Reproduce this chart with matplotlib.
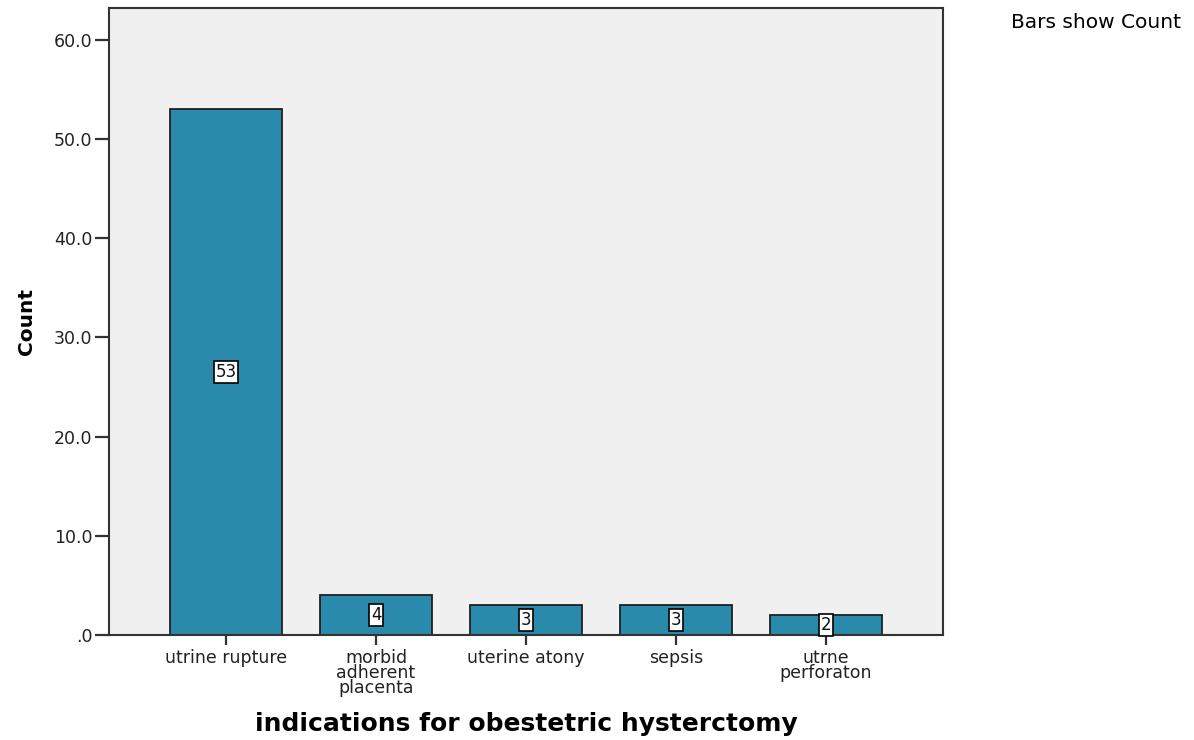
import matplotlib
matplotlib.use('Agg')
from matplotlib import pyplot as plt

categories = ['utrine rupture', 'morbid\nadherent\nplacenta', 'uterine atony', 'sepsis', 'utrne\nperforaton']
counts = [53, 4, 3, 3, 2]
yticks = [0, 10, 20, 30, 40, 50, 60]
ytick_labels = ['.0', '10.0', '20.0', '30.0', '40.0', '50.0', '60.0']

plt.rcParams['font.family'] = ['DejaVu Sans']

fig = plt.figure(figsize=(11.94, 7.4), dpi=100)
ax = fig.add_axes([0.0913, 0.1419, 0.6985, 0.8471])
ax.set_facecolor('#f0f0f0')

pos = list(range(len(categories)))
ax.bar(pos, counts, width=0.75, color='#2a8aab', edgecolor='#202020', linewidth=1.3, zorder=2)

# value boxes in the middle of each bar
for p, c in zip(pos, counts):
    ax.text(p, c / 2, str(c), ha='center', va='center', fontsize=12, color='#111111', zorder=3,
            bbox=dict(boxstyle='square,pad=0.1', facecolor='white', edgecolor='black', linewidth=1.2))

ax.set_xlim(-0.78, 4.78)
ax.set_ylim(0, 63.2)
ax.set_xticks(pos)
ax.set_xticklabels(categories, fontsize=12.5, linespacing=0.8, color='#222222')
ax.set_yticks(yticks)
ax.set_yticklabels(ytick_labels, fontsize=12.5, color='#222222')
ax.tick_params(axis='y', direction='out', length=10, width=1.6, pad=2, color='#333333')
ax.tick_params(axis='x', direction='out', length=7, width=1.6, pad=3, color='#333333')
for s in ax.spines.values():
    s.set_color('#333333')
    s.set_linewidth(1.5)

ax.set_ylabel('Count', fontsize=14.5, fontweight='bold')
ax.yaxis.set_label_coords(-0.088, 0.5)
ax.set_xlabel('indications for obestetric hysterctomy', fontsize=18, fontweight='bold')
ax.xaxis.set_label_coords(0.5, -0.123)

fig.text(0.989, 0.97, 'Bars show Count', ha='right', va='center', fontsize=14.5)

fig.savefig('out.png', dpi=100)
